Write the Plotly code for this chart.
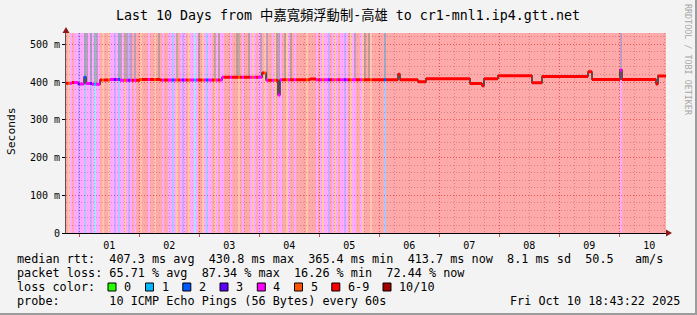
import numpy as np
import pandas as pd
import plotly.graph_objects as go

# ---------------- data ----------------
t_start = "2025-09-30 18:43:22"
t_end = "2025-10-10 18:43:22"
bin_hours = 0.8          # one loss sample per 48 minutes
y_max_ms = 530

# loss category per bin (index into loss_labels)
loss_codes = [
    6, 5, 4, 6, 4, 4, 3, 4, 4, 2,
    4, 4, 3, 4, 1, 4, 4, 6, 5, 6,
    6, 5, 4, 4, 3, 4, 2, 4, 4, 5,
    4, 3, 4, 6, 4, 6, 6, 5, 6, 6,
    6, 4, 6, 6, 5, 6, 6, 6, 4, 6,
    6, 4, 4, 2, 4, 5, 6, 4, 3, 4,
    6, 5, 4, 4, 1, 4, 6, 6, 5, 4,
    2, 4, 4, 6, 5, 4, 6, 4, 4, 6,
    6, 6, 4, 6, 6, 6, 5, 6, 4, 6,
    6, 6, 4, 5, 4, 6, 4, 4, 6, 5,
    4, 6, 6, 4, 5, 6, 4, 4, 6, 6,
    5, 4, 6, 6, 4, 6, 6, 6, 6, 6,
    5, 6, 6, 6, 6, 4, 6, 4, 5, 4,
    4, 3, 6, 4, 5, 4, 6, 4, 4, 3,
    4, 6, 5, 4, 4, 6, 6, 4, 5, 6,
    6, 6, 5, 6, 6, 6, 6, 6, 6, 2,
    6, 6, 6, 6, 6, 6, 6, 6, 6, 6,
    6, 6, 6, 6, 6, 6, 6, 6, 6, 6,
    6, 6, 6, 6, 6, 6, 6, 6, 6, 6,
    6, 6, 6, 6, 6, 6, 6, 6, 6, 6,
    6, 6, 6, 6, 6, 6, 6, 6, 6, 6,
    6, 6, 6, 6, 6, 6, 6, 6, 6, 6,
    6, 6, 6, 6, 6, 6, 6, 6, 6, 6,
    6, 6, 6, 6, 6, 6, 6, 6, 6, 6,
    6, 6, 6, 6, 6, 6, 6, 6, 6, 6,
    6, 6, 6, 6, 6, 6, 6, 6, 6, 6,
    6, 6, 6, 6, 6, 6, 6, 6, 6, 6,
    6, 6, 6, 6, 6, 6, 6, 4, 6, 6,
    6, 6, 6, 6, 6, 6, 6, 6, 6, 6,
    6, 6, 6, 6, 6, 6, 6, 6, 6, 6,
]

# median rtt: hours since start where the value changes, and the value (ms)
median_hours = [0.0, 2.4, 4.8, 7.2, 8.0, 10.4, 13.6, 17.6, 21.6, 29.6, 37.6,
                62.4, 78.4, 80.0, 84.8, 85.6, 97.6, 100.0, 132.8, 133.6,
                140.8, 144.0, 161.6, 166.4, 167.2, 172.8, 186.4, 190.4,
                208.8, 210.4, 221.6, 222.4, 236.0, 236.8]
median_ms = [397, 399, 395, 413, 396, 394, 405.5, 407, 405, 407, 405.5,
             412.5, 424, 405, 366, 406, 408, 406, 421, 406,
             401, 409, 396, 390, 409, 417, 398, 415,
             427, 407, 432, 407, 395, 416]

# bins where pings went above the top of the graph (smoke)
smoke_bins = [9, 10, 12, 14, 15, 26, 27, 29, 30, 32, 34, 46, 55, 66, 74, 76,
              85, 86, 91, 97, 100, 105, 106, 109, 112, 144, 149, 151, 159, 277]

loss_labels = ["0", "1", "2", "3", "4", "5", "6-9", "10/10"]
loss_colors = ["#26ff00", "#00b8ff", "#0059ff", "#5e00ff", "#ff00ff",
               "#ff5500", "#ff0000", "#a10000"]

y_tick_vals = [0, 100, 200, 300, 400, 500]
y_tick_text = ["0", "100 m", "200 m", "300 m", "400 m", "500 m"]

title_text = "Last 10 Days from 中嘉寬頻浮動制-高雄 to cr1-mnl1.ip4.gtt.net"
legend_rows = [
    "median rtt:  407.3 ms avg  430.8 ms max  365.4 ms min  413.7 ms now  8.1 ms sd  50.5   am/s",
    "packet loss: 65.71 % avg  87.34 % max  16.26 % min  72.44 % now",
    "loss color:",
    "probe:       10 ICMP Echo Pings (56 Bytes) every 60s",
]
stamp_text = "Fri Oct 10 18:43:22 2025"
side_text = "RRDTOOL / TOBI OETIKER"

# ---------------- derived ----------------
W, H = 697, 315
PL, PR, PT, PB = 66, 666, 33, 233
MONO = "DejaVu Sans Mono, Noto Sans CJK TC, monospace"


def px(x):
    return (x - PL) / (PR - PL)


def py(y):
    return (PB - y) / (PB - PT)


t0 = pd.Timestamp(t_start)
n_bins = len(loss_codes)
bin_ms = bin_hours * 3600 * 1000
bin_start_h = np.arange(n_bins) * bin_hours
bin_start = t0 + pd.to_timedelta(bin_start_h, unit="h")
bin_end = bin_start + pd.to_timedelta(bin_hours, unit="h")
bin_center = bin_start + pd.to_timedelta(bin_hours / 2, unit="h")
codes = np.array(loss_codes)

mh = np.array(median_hours)
mv = np.array(median_ms, dtype=float)
idx = np.searchsorted(mh, bin_start_h + 1e-9, side="right") - 1
bin_median = mv[idx]

fig = go.Figure()

# loss background
for c in sorted(set(loss_codes)):
    sel = codes == c
    fig.add_trace(go.Bar(
        x=bin_center[sel], y=[y_max_ms] * int(sel.sum()), base=0,
        width=bin_ms, marker=dict(color=loss_colors[c], line=dict(width=0)),
        opacity=0.33, showlegend=False, hoverinfo="skip"))

# smoke above the graph
sb = np.array(smoke_bins)
fig.add_trace(go.Bar(
    x=bin_center[sb], y=y_max_ms - bin_median[sb], base=bin_median[sb],
    width=bin_ms * 0.45, marker=dict(color="#909090", line=dict(width=0)),
    opacity=0.55, showlegend=False, hoverinfo="skip"))

# dark connecting step line
step_x = list(t0 + pd.to_timedelta(mh, unit="h")) + [pd.Timestamp(t_end)]
step_y = list(mv) + [mv[-1]]
fig.add_trace(go.Scatter(
    x=step_x, y=step_y, mode="lines", line=dict(color="#1a1a1a", width=1.3, shape="hv"),
    showlegend=False, hoverinfo="skip"))

# median colored by loss
for c in sorted(set(loss_codes)):
    xs, ys = [], []
    for i in np.where(codes == c)[0]:
        xs += [bin_start[i], bin_end[i], None]
        ys += [bin_median[i], bin_median[i], None]
    fig.add_trace(go.Scatter(
        x=xs, y=ys, mode="lines", line=dict(color=loss_colors[c], width=3),
        showlegend=False, hoverinfo="skip"))

ann = []
ann.append(dict(text=title_text, x=px(348), y=py(15), xanchor="center", yanchor="middle",
                font=dict(family=MONO, size=13.3, color="#000")))
ann.append(dict(text="Seconds", x=px(11), y=py(131), textangle=-90, xanchor="center",
                yanchor="middle", font=dict(family=MONO, size=11.3, color="#000")))
ann.append(dict(text=side_text, x=px(688), y=py(60), textangle=90, xanchor="center",
                yanchor="middle", font=dict(family=MONO, size=8.4, color="#a8a8a8")))
row_y = [259.3, 273.3, 287.3, 301.3]
for t, yy in zip(legend_rows, row_y):
    ann.append(dict(text=t.replace(" ", "\u00a0"), x=px(15), y=py(yy), xanchor="left",
                    yanchor="middle", font=dict(family=MONO, size=11.8, color="#000")))
ann.append(dict(text=stamp_text.replace(" ", "\u00a0"), x=px(682), y=py(301.3),
                xanchor="right", yanchor="middle",
                font=dict(family=MONO, size=11.8, color="#000")))

shapes = []
box_x = [108, 145.5, 182.8, 220, 257.3, 294.5, 331.8, 383]
for bx, lab, col in zip(box_x, loss_labels, loss_colors):
    shapes.append(dict(type="rect", xref="paper", yref="paper",
                       x0=px(bx), x1=px(bx + 8), y0=py(291), y1=py(283),
                       fillcolor=col, line=dict(color="#000", width=1)))
    ann.append(dict(text=lab, x=px(bx + 14), y=py(287.3), xanchor="left", yanchor="middle",
                    font=dict(family=MONO, size=11.8, color="#000")))

# axis arrows
shapes.append(dict(type="path", xref="paper", yref="paper",
                   path=f"M {px(62.5)} {py(33)} L {px(69.5)} {py(33)} L {px(66)} {py(27)} Z",
                   fillcolor="#8b1a1a", line=dict(width=0)))
shapes.append(dict(type="path", xref="paper", yref="paper",
                   path=f"M {px(666)} {py(229.5)} L {px(666)} {py(236.5)} L {px(672)} {py(233)} Z",
                   fillcolor="#8b1a1a", line=dict(width=0)))
# frame
shapes.append(dict(type="line", xref="paper", yref="paper", x0=px(0), x1=px(697),
                   y0=py(314), y1=py(314), line=dict(color="#9c9c9c", width=2)))
shapes.append(dict(type="line", xref="paper", yref="paper", x0=px(696), x1=px(696),
                   y0=py(0), y1=py(315), line=dict(color="#9c9c9c", width=2)))

for a in ann:
    a.update(xref="paper", yref="paper", showarrow=False)

grid_minor = "#c4c4c4"
grid_major = "#e07a7a"
fig.update_layout(
    width=W, height=H, margin=dict(l=PL, r=W - PR, t=PT, b=H - PB),
    paper_bgcolor="#f3f3f3", plot_bgcolor="#ffffff",
    barmode="overlay", bargap=0, showlegend=False,
    annotations=ann, shapes=shapes,
    xaxis=dict(type="date", range=[t_start, t_end], dtick=86400000, tick0="2025-10-01",
               tickformat="%d", ticklabelmode="period", showgrid=True,
               gridcolor=grid_major, griddash="1px,2px", gridwidth=1,
               minor=dict(dtick=21600000, tick0="2025-10-01", showgrid=True,
                          gridcolor=grid_minor, griddash="1px,2px", ticks=""),
               showline=True, linecolor="#000", linewidth=1, ticks="outside", ticklen=3,
               tickcolor="#e05050", tickfont=dict(family=MONO, size=10, color="#000"),
               fixedrange=True, zeroline=False),
    yaxis=dict(range=[0, y_max_ms], tickmode="array", tickvals=y_tick_vals,
               ticktext=y_tick_text, showgrid=True, gridcolor=grid_major,
               griddash="1px,2px", gridwidth=1,
               minor=dict(tickmode="linear", tick0=0, dtick=20, showgrid=True,
                          gridcolor=grid_minor, griddash="1px,2px"),
               showline=True, linecolor="#555", linewidth=1, ticks="outside", ticklen=3,
               tickcolor="#000", tickfont=dict(family=MONO, size=10, color="#000"),
               zeroline=False, fixedrange=True),
)

fig.write_html("out.html")
